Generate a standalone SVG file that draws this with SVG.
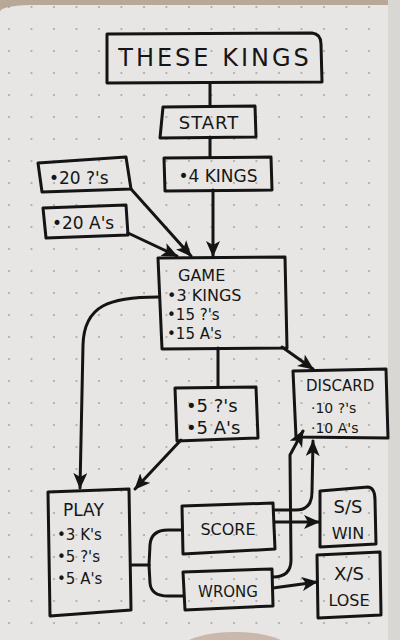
<svg xmlns="http://www.w3.org/2000/svg" width="400" height="640" viewBox="0 0 400 640">
<defs>
<pattern id="dots" x="4" y="2" width="22.5" height="22" patternUnits="userSpaceOnUse">
<circle cx="5" cy="5" r="1" fill="#a3a3a3"/>
</pattern>
<marker id="ah" viewBox="0 0 16 14" refX="15" refY="7" markerWidth="16" markerHeight="14" orient="auto" markerUnits="userSpaceOnUse">
<path d="M0,0 L16,7 L0,14 L4,7 Z" fill="#141414"/>
</marker>
</defs>
<style>
.box{fill:none;stroke:#141414;stroke-width:3;stroke-linejoin:round}
.ln{fill:none;stroke:#141414;stroke-width:3;stroke-linecap:round;stroke-linejoin:round}
text{font-family:"DejaVu Sans","Liberation Sans",sans-serif;fill:#161616}
.t{text-anchor:middle}
</style>
<rect width="400" height="640" fill="#b9a797"/>
<path d="M0,12 Q0,6 30,5 L388,5 L388,640 L0,640 Z" fill="#e7e6e4"/>
<rect x="388" y="0" width="12" height="640" fill="#d9d7d3"/>
<rect x="0" y="5" width="388" height="635" fill="url(#dots)"/>
<ellipse cx="235" cy="650" rx="55" ry="18" fill="#b89a88" opacity="0.6"/>

<g id="connectors">
<path class="ln" d="M210,83 L210,106"/>
<path class="ln" d="M210,137 L210,157"/>
<path class="ln" d="M213,190 L213,256" marker-end="url(#ah)"/>
<path class="ln" d="M131,189 L191,256" marker-end="url(#ah)"/>
<path class="ln" d="M128,233 L177,256" marker-end="url(#ah)"/>
<path class="ln" d="M158,297 C110,297 84,305 83,345 L80,488" marker-end="url(#ah)"/>
<path class="ln" d="M282,347 L313,369" marker-end="url(#ah)"/>
<path class="ln" d="M218,348 L218,387"/>
<path class="ln" d="M181,440 L135,489" marker-end="url(#ah)"/>
<path class="ln" d="M132,565 L149,565"/>
<path class="ln" d="M149,565 L150,545 Q151,530 168,530 L182,530"/>
<path class="ln" d="M149,565 L150,583 Q151,596 168,596 L183,596"/>
<path class="ln" d="M275,522 L319,522" marker-end="url(#ah)"/>
<path class="ln" d="M273,588 L317,582" marker-end="url(#ah)"/>
<path class="ln" d="M275,510 L296,510 Q312,510 312,492 L313,441" marker-end="url(#ah)"/>
<path class="ln" d="M273,577 Q291,577 291,560 L290,455 L303,431" marker-end="url(#ah)"/>
</g>

<g id="title">
<path class="box" d="M107,34 L312,33 Q321,34 321,44 L322,82 L107,83 Z"/>
<text class="t" x="215" y="66" font-size="24" letter-spacing="3">THESE KINGS</text>
</g>
<g id="start">
<path class="box" d="M163,107 L255,106 L256,137 L160,138 Z"/>
<text class="t" x="209" y="129" font-size="18" letter-spacing="1">START</text>
</g>
<g id="kings4">
<path class="box" d="M164,158 L271,157 L272,190 L165,191 Z"/>
<text class="t" x="218" y="182" font-size="17">•4 KINGS</text>
</g>
<g id="q20">
<path class="box" d="M38,163 L126,157 L131,189 L42,192 Z"/>
<text x="49" y="184" font-size="17">•20 ?'s</text>
</g>
<g id="a20">
<path class="box" d="M43,208 L126,205 L128,235 L46,238 Z"/>
<text x="52" y="229" font-size="17">•20 A's</text>
</g>
<g id="game">
<path class="box" d="M158,258 L285,257 L287,348 L162,349 Z"/>
<text x="178" y="281" font-size="16">GAME</text>
<text x="167" y="301" font-size="16">•3 KINGS</text>
<text x="167" y="320" font-size="15">•15 ?'s</text>
<text x="167" y="339" font-size="15">•15 A's</text>
</g>
<g id="fives">
<path class="box" d="M175,388 L256,387 L258,438 L177,441 Z"/>
<text x="186" y="412" font-size="18">•5 ?'s</text>
<text x="186" y="434" font-size="18">•5 A's</text>
</g>
<g id="discard">
<path class="box" d="M293,371 L386,369 L388,438 L296,437 Z"/>
<text x="306" y="391" font-size="15">DISCARD</text>
<text x="311" y="413" font-size="14">·10 ?'s</text>
<text x="311" y="433" font-size="14">·10 A's</text>
</g>
<g id="play">
<path class="box" d="M48,492 L129,489 L131,610 L50,616 Z"/>
<text x="63" y="516" font-size="17">PLAY</text>
<text x="57" y="540" font-size="15">•3 K's</text>
<text x="57" y="562" font-size="15">•5 ?'s</text>
<text x="57" y="584" font-size="15">•5 A's</text>
</g>
<g id="score">
<path class="box" d="M182,506 L273,503 L275,549 L183,554 Z"/>
<text class="t" x="228" y="535" font-size="16">SCORE</text>
</g>
<g id="wrong">
<path class="box" d="M183,572 L272,569 L273,606 L185,610 Z"/>
<text class="t" x="228" y="597" font-size="15">WRONG</text>
</g>
<g id="win">
<path class="box" d="M320,491 L368,487 Q375,488 375,500 L376,544 L320,547 Z"/>
<text class="t" x="348" y="513" font-size="18">S/S</text>
<text class="t" x="348" y="539" font-size="16">WIN</text>
</g>
<g id="lose">
<path class="box" d="M317,555 L380,552 L381,615 L318,618 Z"/>
<text class="t" x="349" y="580" font-size="18">X/S</text>
<text class="t" x="349" y="606" font-size="16">LOSE</text>
</g>
</svg>
